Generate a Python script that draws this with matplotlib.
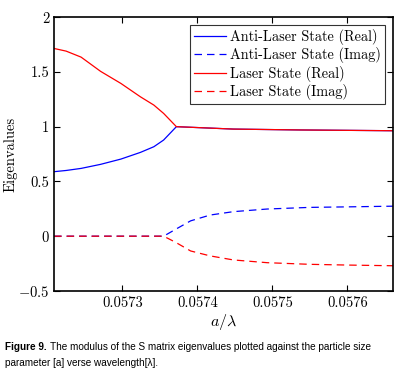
import matplotlib
matplotlib.use("Agg")
import matplotlib.pyplot as plt

plt.rcParams['font.family'] = ['cmr10', 'DejaVu Serif']
plt.rcParams['mathtext.fontset'] = 'cm'
plt.rcParams['axes.formatter.use_mathtext'] = True

# Real parts (before coalescence)
x_split = [0.057209, 0.057225, 0.057245, 0.057271, 0.057298, 0.057324, 0.057342, 0.057355, 0.057372]
laser_real_split = [1.714, 1.690, 1.635, 1.505, 1.395, 1.273, 1.197, 1.121, 1.000]
anti_real_split = [0.589, 0.600, 0.619, 0.656, 0.704, 0.765, 0.817, 0.878, 1.000]
# Real parts after coalescence (shared)
x_merged = [0.057372, 0.057448, 0.057537, 0.057661]
real_merged = [1.000, 0.978, 0.970, 0.963]

# Imaginary parts
x_imag = [0.057209, 0.057300, 0.057355, 0.057371, 0.057391, 0.057417, 0.057448,
          0.057493, 0.057550, 0.057603, 0.057661]
anti_imag = [0.0, 0.0, 0.0, 0.063, 0.14, 0.193, 0.224, 0.248, 0.263, 0.268, 0.274]
laser_imag = [0.0, 0.0, 0.0, -0.056, -0.135, -0.18, -0.217, -0.242, -0.257, -0.264, -0.27]

xticks = [0.0573, 0.0574, 0.0575, 0.0576]
xticklabels = ['0.0573', '0.0574', '0.0575', '0.0576']
yticks = [-0.5, 0, 0.5, 1, 1.5, 2]
yticklabels = ['$-0.5$', '0', '0.5', '1', '1.5', '2']

fig = plt.figure(figsize=(4.13, 3.9), dpi=100)
ax = fig.add_axes([0.131, 0.254, 0.821, 0.702])

blue = '#0000ff'
red = '#ff0000'
lw = 0.9
dash = (0, (6, 4))

ax.plot(x_split + x_merged[1:], anti_real_split + real_merged[1:], color=blue, lw=lw,
        label='Anti-Laser State (Real)')
ax.plot(x_imag, anti_imag, color=blue, lw=lw, linestyle=dash, label='Anti-Laser State (Imag)')
ax.plot(x_split + x_merged[1:], laser_real_split + real_merged[1:], color=red, lw=lw,
        label='Laser State (Real)')
ax.plot(x_imag, laser_imag, color=red, lw=lw, linestyle=dash, label='Laser State (Imag)')

ax.set_xlim(0.057209, 0.057661)
ax.set_ylim(-0.5, 2)
ax.set_xticks(xticks)
ax.set_xticklabels(xticklabels)
ax.set_yticks(yticks)
ax.set_yticklabels(yticklabels)
ax.tick_params(direction='in', top=True, right=True, labelsize=10.5, length=4, width=0.8)
for s in ax.spines.values():
    s.set_linewidth(1.2)
ax.set_xlabel(r'$a/\lambda$', fontsize=11.5, labelpad=2)
ax.set_ylabel('Eigenvalues', fontsize=10.5, labelpad=0)

leg = ax.legend(loc='upper right', fontsize=10.3, frameon=True, fancybox=False,
                edgecolor='black', handlelength=2.2, handletextpad=0.3,
                labelspacing=0.15, borderpad=0.3, borderaxespad=0.55)
leg.get_frame().set_linewidth(0.8)

cap_family = ['Liberation Sans', 'DejaVu Sans']
cap_size = 7.2
t1 = fig.text(0.012, 0.111, 'Figure 9.', fontsize=cap_size, fontweight='bold',
              family=cap_family, va='center')
fig.canvas.draw()
bb = t1.get_window_extent(renderer=fig.canvas.get_renderer())
x_after = (bb.x1 + 3) / fig.bbox.width
fig.text(x_after, 0.111, 'The modulus of the S matrix eigenvalues plotted against the particle size',
         fontsize=cap_size, family=cap_family, va='center')
fig.text(0.012, 0.069, 'parameter [a] verse wavelength[\u03bb].', fontsize=cap_size,
         family=cap_family, va='center')

fig.savefig('out.png', dpi=100)
